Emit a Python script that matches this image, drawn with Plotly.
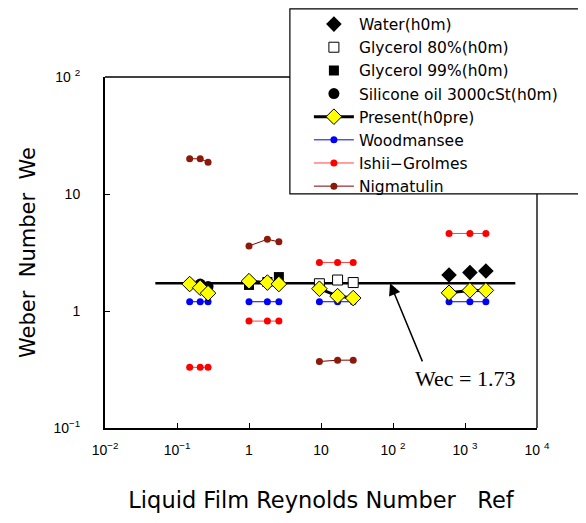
import numpy as np
import plotly.graph_objects as go

# ---- data ----
wec_x = [0.05, 5000]
wec_y = [1.73, 1.73]

water_x = [600, 1170, 1950]
water_y = [2.03, 2.13, 2.2]

gly80_x = [9.5, 17, 28]
gly80_y = [1.71, 1.84, 1.75]

gly99_x = [1.0, 1.8, 2.6]
gly99_y = [1.67, 1.77, 1.95]

sil_x = [0.15, 0.21, 0.27]
sil_y = [1.7, 1.7, 1.62]

# clusters (None separates groups)
present_x = [0.15, 0.21, 0.27, None, 1.0, 1.8, 2.6, None, 9.5, 17, 28, None, 600, 1170, 1950]
present_y = [1.7, 1.58, 1.42, None, 1.8, 1.75, 1.7, None, 1.55, 1.34, 1.29, None, 1.43, 1.5, 1.5]

wood_x = present_x
wood_y = [1.2, 1.2, 1.2, None, 1.2, 1.2, 1.2, None, 1.2, 1.2, 1.2, None, 1.2, 1.2, 1.2]

ishii_x = present_x
ishii_y = [0.33, 0.33, 0.33, None, 0.82, 0.82, 0.82, None, 2.6, 2.6, 2.6, None, 4.6, 4.6, 4.6]

nig_x = present_x[:11]
nig_y = [20, 20, 18.7, None, 3.6, 4.1, 3.9, None, 0.37, 0.38, 0.38]

x_tickvals = [0.01, 0.1, 1, 10, 100, 1000, 10000]
x_ticktext = ["10<sup>−2</sup>", "10<sup>−1</sup>", "1", "10", "10 <sup>2</sup>", "10 <sup>3</sup>", "10 <sup>4</sup>"]
y_tickvals = [0.1, 1, 10, 100]
y_ticktext = ["10<sup>−1</sup>", "1", "10", "10 <sup>2</sup>"]

FONT = "Liberation Sans"
WIDE = "DejaVu Sans"

fig = go.Figure()

fig.add_trace(go.Scatter(x=wec_x, y=wec_y, mode="lines", line=dict(color="black", width=2.5),
                         showlegend=False, hoverinfo="skip"))
fig.add_trace(go.Scatter(x=wood_x, y=wood_y, mode="lines+markers", name="Woodmansee",
                         line=dict(color="#0000ff", width=1), marker=dict(color="#0000ff", size=7),
                         legendrank=6))
fig.add_trace(go.Scatter(x=ishii_x, y=ishii_y, mode="lines+markers", name="Ishii−Grolmes",
                         line=dict(color="#ff4040", width=1), marker=dict(color="#ff0000", size=7),
                         legendrank=7))
fig.add_trace(go.Scatter(x=nig_x, y=nig_y, mode="lines+markers", name="Nigmatulin",
                         line=dict(color="#800000", width=1), marker=dict(color="#8b1a0a", size=7),
                         legendrank=8))
fig.add_trace(go.Scatter(x=water_x, y=water_y, mode="markers", name="Water(h0m)",
                         marker=dict(symbol="diamond", color="black", size=12), legendrank=1))
fig.add_trace(go.Scatter(x=gly80_x, y=gly80_y, mode="markers", name="Glycerol 80%(h0m)",
                         marker=dict(symbol="square", color="white", size=10,
                                     line=dict(color="black", width=1)), legendrank=2))
fig.add_trace(go.Scatter(x=gly99_x, y=gly99_y, mode="markers", name="Glycerol 99%(h0m)",
                         marker=dict(symbol="square", color="black", size=10), legendrank=3))
fig.add_trace(go.Scatter(x=sil_x, y=sil_y, mode="markers", name="Silicone oil 3000cSt(h0m)",
                         marker=dict(symbol="circle", color="black", size=11), legendrank=4))
fig.add_trace(go.Scatter(x=present_x, y=present_y, mode="lines+markers", name="Present(h0pre)",
                         line=dict(color="black", width=3),
                         marker=dict(symbol="diamond", color="#ffff00", size=12,
                                     line=dict(color="black", width=1)), legendrank=5))

# arrow + label
fig.add_annotation(x=np.log10(91), y=np.log10(1.73), ax=np.log10(261), ay=np.log10(0.36),
                   xref="x", yref="y", axref="x", ayref="y", text="", showarrow=True,
                   arrowhead=2, arrowsize=1.6, arrowwidth=1.5, arrowcolor="black")
fig.add_annotation(x=np.log10(1000), y=np.log10(0.267), xref="x", yref="y", text="Wec = 1.73",
                   showarrow=False, font=dict(family="Liberation Serif", size=22, color="black"))

# frame top/right
fig.add_shape(type="line", xref="paper", yref="paper", x0=0, x1=1, y0=1, y1=1,
              line=dict(color="black", width=1.5))
fig.add_shape(type="line", xref="paper", yref="paper", x0=1, x1=1, y0=0, y1=1,
              line=dict(color="#555555", width=2))
# legend box
fig.add_shape(type="rect", xref="paper", yref="paper", x0=0.428, x1=1.109, y0=0.667, y1=1.194,
              fillcolor="white", line=dict(color="black", width=1.2), layer="above")

fig.update_layout(
    width=578, height=515,
    margin=dict(l=97, r=49, t=69, b=95, autoexpand=False),
    paper_bgcolor="white", plot_bgcolor="white",
    font=dict(family=FONT, color="black"),
    legend=dict(x=0.472, y=1.198, xanchor="left", yanchor="top",
                bgcolor="rgba(0,0,0,0)", borderwidth=0,
                font=dict(family=WIDE, size=15.5, color="black"),
                itemwidth=40, traceorder="normal"),
)
fig.update_xaxes(type="log", range=[-2, 4], tickvals=x_tickvals, ticktext=x_ticktext,
                 ticks="inside", ticklen=5, tickcolor="black", showline=True, linecolor="black",
                 linewidth=2, showgrid=False, zeroline=False, tickfont=dict(size=14),
                 title=dict(text="Liquid Film Reynolds Number   Ref",
                            font=dict(family=WIDE, size=22.5), standoff=35),
                 ticklabelstandoff=8)
fig.update_yaxes(type="log", range=[-1, 2], tickvals=y_tickvals, ticktext=y_ticktext,
                 ticks="inside", ticklen=5, tickcolor="black", showline=True, linecolor="black",
                 linewidth=2, showgrid=False, zeroline=False, tickfont=dict(size=14),
                 title=dict(text="Weber  Number  We", font=dict(family=WIDE, size=21), standoff=12),
                 ticklabelstandoff=20)

fig.write_html("out.html")
